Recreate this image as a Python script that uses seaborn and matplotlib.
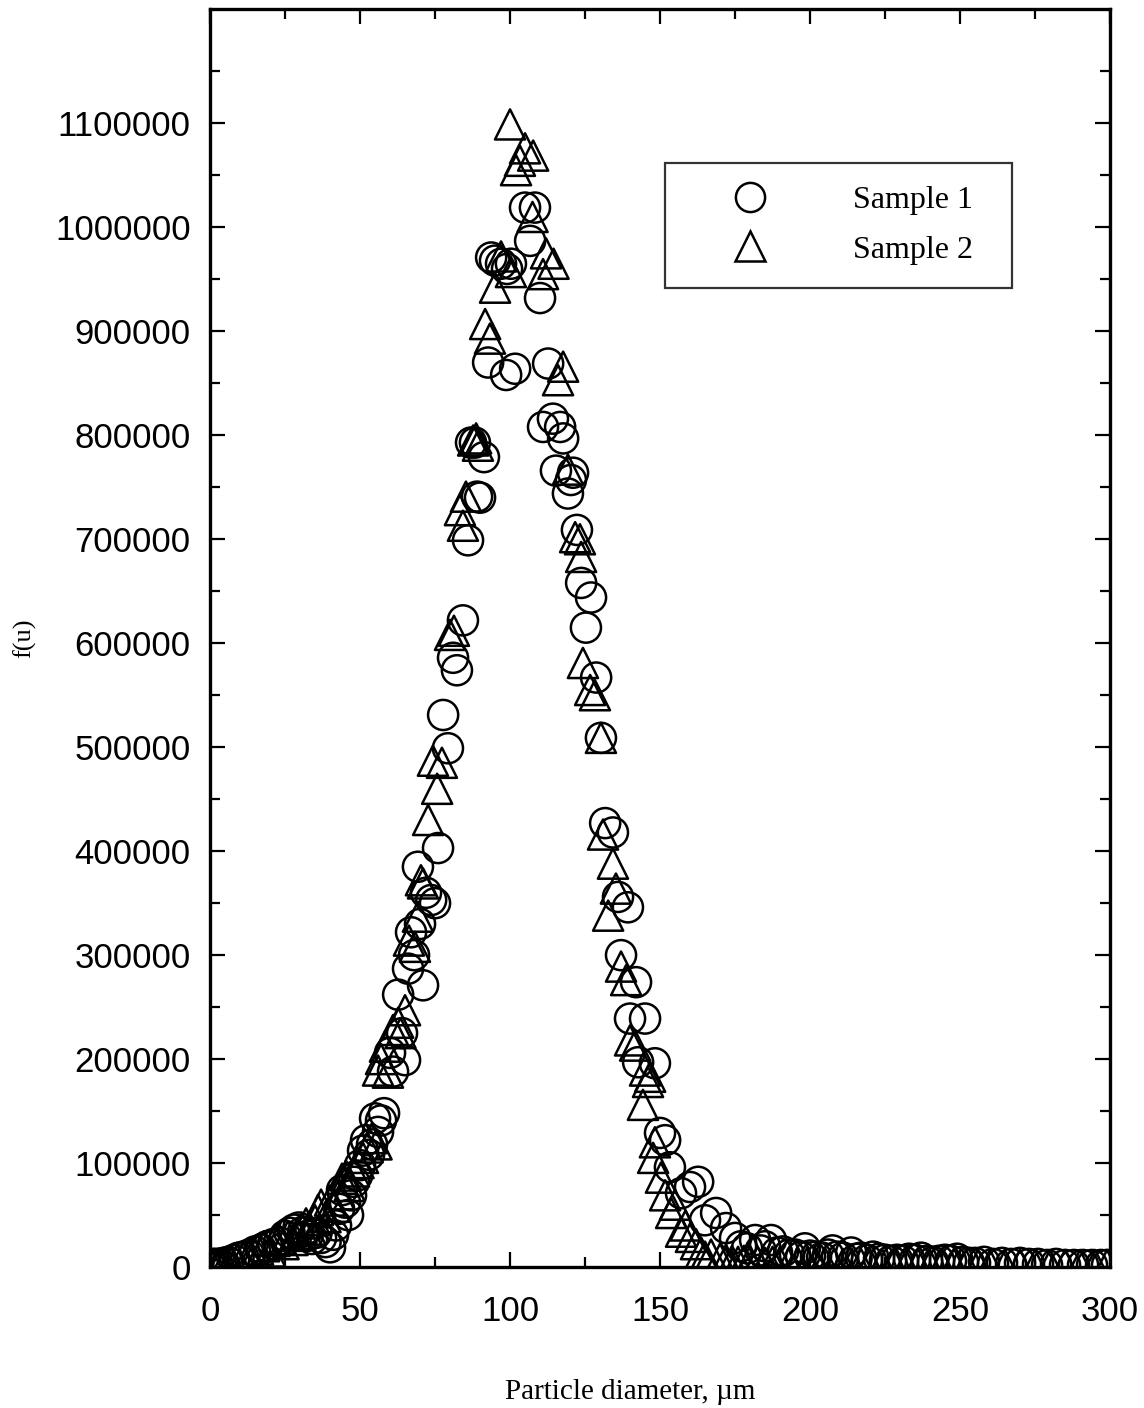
import numpy as np
import pandas as pd
import matplotlib
matplotlib.use("Agg")
import matplotlib.pyplot as plt
import seaborn as sns
from matplotlib.ticker import MultipleLocator, FixedLocator
from matplotlib.lines import Line2D

# ---- data (particle diameter in um, f(u)) ----
s1_x = [0.5, 1.5, 2.5, 3.5, 4.5, 6, 8, 9.5, 11, 13, 15, 17, 19, 21, 23, 25, 26.5, 28, 29.5, 31,
        32.5, 34, 35.5, 37, 38.5, 40, 41, 42, 43, 44, 45, 46, 47, 48, 49, 50, 51, 52, 53, 54,
        55, 56, 57, 58, 60, 61, 62.7, 64, 65, 66, 67, 68, 69.3, 70, 71, 72, 73.7, 75, 76, 77.7,
        79.3, 81, 82.3, 84.3, 86, 87, 88.3, 89, 90, 91.3, 92.7, 93.7, 95, 97, 98.7, 99, 100.3, 101.7,
        105, 106.7, 108.3, 110, 111, 112.7, 114.3, 115.3, 116.7, 117.7, 119.3, 120.3, 121, 122.3,
        123.7, 125.3, 127, 128.7, 130.3, 131.7, 134.3, 136, 137, 139.3, 140, 142, 142.7, 145,
        148.3, 150, 151.7, 153.3, 157, 160, 162.7, 165, 168.7, 172,
        175, 177, 179, 181.7, 183.5, 185, 187, 189, 191, 193, 195, 197, 198.3, 200, 202, 204,
        206, 207.5, 209, 211, 213.7, 215.5, 217, 219, 221, 223, 225, 227, 229, 231, 233, 235,
        237, 239, 241, 243, 245, 247, 249, 251, 253, 255, 258, 261, 264, 267, 270, 273, 276,
        279, 282, 285, 288, 291, 294, 297, 299]
s1_y = [3000, 3000, 3000, 3000, 4000, 5000, 7000, 9000, 10000, 12000, 15000, 17000, 20000, 22000,
        24000, 30000, 33000, 36000, 38000, 34000, 30000, 27000, 33000, 28000, 24000, 19000, 31000,
        40000, 56000, 74000, 62000, 50000, 69000, 82000, 88000, 98000, 112000, 122000, 108000,
        118000, 143000, 130000, 141000, 148000, 206000, 188000, 262000, 225000, 199000, 287000,
        322000, 300000, 385000, 330000, 271000, 360000, 353000, 350000, 403000, 531000,
        499000, 586000, 574000, 622000, 699000, 793000, 793000, 741000, 740000, 779000, 870000,
        971000, 968000, 965000, 858000, 960000, 965000, 864000,
        1019000, 987000, 1019000, 932000, 808000, 869000, 816000, 766000, 808000, 797000, 744000,
        757000, 764000, 709000,
        658000, 615000, 644000, 567000, 509000, 427000, 418000, 356000, 300000, 346000, 239000,
        274000, 197000, 239000,
        196000, 129000, 122000, 96000, 71000, 77000, 82000, 45000, 52000, 37500,
        28000, 20000, 18000, 26000, 16000, 20000, 26000, 14000, 15000, 12000, 12000, 10000,
        18000, 11000, 10000, 9000, 12000, 16000, 10000, 9000, 14000, 8000, 9000, 7000, 10000,
        8000, 7000, 6000, 7000, 6000, 8000, 7000, 9000, 6000, 5000, 6000, 7000, 6000, 8000,
        5000, 4000, 4000, 5000, 3000, 4000, 3000, 4000, 3000, 3000, 2000, 3000, 2000, 2000,
        2000, 2000, 2000, 2000]

s2_x = [0.5, 1.5, 2.5, 3.5, 5, 7, 9, 11, 13, 14.5, 16, 18, 20, 21.5, 23, 24.5, 26, 27.5, 29,
        30.5, 32, 33.5, 35, 36, 37, 38.5, 40, 41.5, 43, 44, 45.3, 46.5, 48, 49.5, 51, 52.5, 54,
        55.5, 56, 57, 58.3, 59.3, 61, 62.7, 63.5, 65, 66.3, 68.3, 69.3, 70.3, 71, 72.7, 74.3,
        75.7, 77.3, 80, 81.3, 83.3, 84.3, 85.3, 87.7, 88.7, 89.3, 91.7, 93.3, 95, 97, 100,
        100.3, 102, 103.3, 105, 107.7, 107.5, 111, 112, 114.5, 116, 117.7, 119.3, 121.7, 123.3,
        123.7, 124.3, 126.7, 128.3, 130.3, 131, 132.7, 134.3, 135.3, 137, 138.7, 140, 141.7,
        144.3, 145, 146, 146.7, 147.7, 148.3, 150.3, 151.7, 153.7, 155, 157, 158.5, 160.3, 162,
        163.7, 165, 167,
        170, 172, 174, 176, 178, 180, 182.5, 185, 187.5, 190, 193, 196, 199, 202, 205, 208,
        211, 214, 217, 220, 224, 228, 232, 236, 240, 244, 248, 252, 256, 260, 265, 270, 275,
        280, 285, 290, 295, 299]
s2_y = [3000, 3000, 3000, 3000, 4000, 5000, 7000, 9000, 11000, 14000, 17000, 20000, 15000,
        25000, 27000, 22000, 30000, 26000, 32000, 38000, 42000, 36000, 45000, 55000, 60000,
        48000, 64000, 58000, 70000, 85000, 88000, 78000, 92000, 100000, 105000, 115000, 124000,
        118000, 189000, 200000, 212000, 187000, 228000, 235000, 225000, 247000, 314000, 308000,
        337000, 372000, 369000, 430000, 487000, 460000, 485000, 608000, 612000, 728000, 713000,
        741000, 795000, 797000, 790000, 907000, 893000, 942000, 972000, 1099000,
        957000, 1055000, 1064000, 1076000, 1069000, 1010000, 955000, 975000, 965000, 853000,
        866000, 767000, 702000, 700000,
        683000, 581000, 555000, 550000, 509000, 416000, 338000, 388000, 364000, 289000, 276000,
        218000, 213000,
        156000, 189000, 178000, 183000, 105000, 120000, 86000, 69000, 52000, 60000, 34000,
        40000, 29000, 22000,
        14000, 10000, 12000,
        8000, 7000, 6000, 5000, 6000, 6000, 5000, 4000, 5000, 5000, 4000, 4000, 4000, 3000,
        4000, 3000, 3000, 3000, 3000, 3000, 3000, 3000, 2000, 3000, 2000, 2000, 3000, 2000,
        2000, 2000, 2000, 2000, 2000, 2000, 2000, 2000, 2000, 2000]

x_ticks = [0, 50, 100, 150, 200, 250, 300]
y_ticks = [0, 100000, 200000, 300000, 400000, 500000, 600000, 700000, 800000, 900000,
           1000000, 1100000]
labels = ["Sample 1", "Sample 2"]

df1 = pd.DataFrame({"d": s1_x, "f": s1_y})
df2 = pd.DataFrame({"d": s2_x, "f": s2_y})

sns.set_theme(style="white")
plt.rcParams["font.family"] = ["Liberation Sans", "DejaVu Sans"]
plt.rcParams["text.color"] = "black"

fig = plt.figure(figsize=(11.44, 14.08), dpi=100)
ax = fig.add_axes([0.1836, 0.1001, 0.7867, 0.8935])

msize = 470
lw = 1.8
sns.scatterplot(data=df1, x="d", y="f", marker="o", s=msize, facecolors="none",
                edgecolor="black", linewidth=lw, ax=ax, legend=False)
sns.scatterplot(data=df2, x="d", y="f", marker="^", s=msize, facecolors="none",
                edgecolor="black", linewidth=lw, ax=ax, legend=False)

ax.set_xlim(0, 300)
ax.set_ylim(0, 1210000)
ax.xaxis.set_major_locator(FixedLocator(x_ticks))
ax.xaxis.set_minor_locator(MultipleLocator(25))
ax.yaxis.set_major_locator(FixedLocator(y_ticks))
ax.yaxis.set_minor_locator(FixedLocator([50000 + 100000 * i for i in range(12)]))
ax.set_xticklabels([str(t) for t in x_ticks])
ax.set_yticklabels([str(t) for t in y_ticks])

ax.tick_params(which="both", direction="in", top=True, right=True, bottom=True, left=True,
               color="black", width=1.6)
ax.tick_params(which="major", length=11, labelsize=25, labelcolor="black")
ax.tick_params(axis="x", which="major", pad=20)
ax.tick_params(axis="y", which="major", pad=14)
ax.tick_params(which="minor", length=7)
for sp in ax.spines.values():
    sp.set_color("black")
    sp.set_linewidth(2.4)

ax.set_xlabel("Particle diameter, \u00b5m", family=["Liberation Serif", "DejaVu Serif"],
              fontsize=21, color="black")
ax.set_ylabel("f(u)", family=["Liberation Serif", "DejaVu Serif"], fontsize=19,
              color="black")
ax.xaxis.set_label_coords(0.467, -0.089)
ax.yaxis.set_label_coords(-0.193, 0.5)

handles = [Line2D([], [], linestyle="none", marker="o", markersize=21, markerfacecolor="none",
                  markeredgecolor="black", markeredgewidth=lw),
           Line2D([], [], linestyle="none", marker="^", markersize=21, markerfacecolor="none",
                  markeredgecolor="black", markeredgewidth=lw)]
leg = ax.legend(handles, labels, loc="upper left", mode="expand",
                bbox_to_anchor=(0.5056, 0.779, 0.3856, 0.0986),
                prop={"family": "Liberation Serif", "size": 23}, frameon=True, fancybox=False,
                handlelength=3.9, handletextpad=1.25, labelspacing=0.62, borderpad=0.72,
                borderaxespad=0, labelcolor="black")
leg.get_frame().set_edgecolor("black")
leg.get_frame().set_linewidth(1.6)

fig.savefig("out.png", dpi=100, facecolor="white")
